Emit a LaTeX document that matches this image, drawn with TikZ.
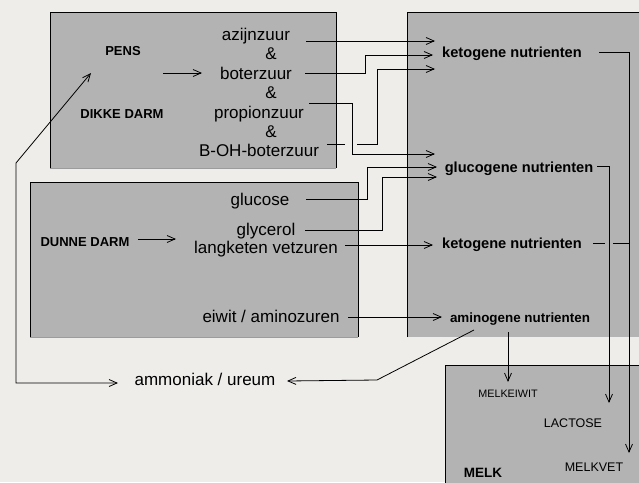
\documentclass[tikz,border=0pt]{standalone}
\usepackage{fontspec}
\setmainfont{Liberation Sans}
\usetikzlibrary{arrows.meta}
\definecolor{paper}{HTML}{EEEDEA}
\definecolor{boxgray}{HTML}{B3B3B3}
\definecolor{rimgray}{HTML}{9C9C9C}

\tikzset{
  boxfill/.style={fill=boxgray},
  rim/.style={draw=black, line width=0.8pt},
  lowrim/.style={draw=rimgray, line width=0.8pt},
  acid/.style={anchor=base, inner sep=0pt, font=\fontsize{17}{20}\selectfont},
  organ/.style={anchor=base, inner sep=0pt, font=\bfseries\fontsize{13}{15}\selectfont},
  nutrient/.style={anchor=base, inner sep=0pt, font=\bfseries\fontsize{14.6}{17}\selectfont},
  milk/.style={anchor=base, inner sep=0pt, font=\fontsize{12.5}{15}\selectfont},
  link/.style={line width=0.8pt},
  arr/.style={link, -{Straight Barb[length=8pt,width=7pt]}},
  arrboth/.style={link, {Straight Barb[length=8pt,width=7pt]}-{Straight Barb[length=8pt,width=7pt]}},
}

\begin{document}
\begin{tikzpicture}[x=1pt, y=-1pt]
  \useasboundingbox (0,0) rectangle (639,482);
  \clip (0,0) rectangle (639,482);
  \fill[paper] (0,0) rectangle (639,482);

  % boxes
  \fill[boxfill] (50,12) rectangle (336,168);
  \draw[lowrim] (50,168) -- (336,168);
  \draw[rim] (50,168) |- (336,12) -- (336,168);
  \fill[boxfill] (30,182) rectangle (358,337);
  \draw[lowrim] (30,337) -- (358,337);
  \draw[rim] (30,337) |- (358,182) -- (358,337);
  \fill[boxfill] (407,12) rectangle (650,337);
  \draw[rim] (407,337) |- (650,12);
  \fill[boxfill] (445,365) rectangle (650,490);
  \draw[rim] (445,490) |- (650,365);

  % pens / dikke darm
  \node[organ] (pens)  at (123,55)  {PENS};
  \node[organ] (dikke) at (122,118) {DIKKE DARM};
  \node[acid] (azijn)   at (256,40)  {azijnzuur};
  \node[acid] (amp1)    at (271,59)  {\&};
  \node[acid] (boter)   at (256,79)  {boterzuur};
  \node[acid] (amp2)    at (271,98)  {\&};
  \node[acid] (propion) at (259,118) {propionzuur};
  \node[acid] (amp3)    at (271,137) {\&};
  \node[acid] (bohb)    at (259,156) {B-OH-boterzuur};

  % dunne darm
  \node[organ] (dunne)  at (85,246)  {DUNNE DARM};
  \node[acid] (glucose) at (260,205) {glucose};
  \node[acid] (glycerol) at (266,235) {glycerol};
  \node[acid] (langk)   at (266,253) {langketen vetzuren};
  \node[acid] (eiwit)   at (271,322) {eiwit / aminozuren};

  % nutrienten
  \node[nutrient] (ketoA) at (512,57)  {ketogene nutrienten};
  \node[nutrient] (gluco) at (519,172) {glucogene nutrienten};
  \node[nutrient] (ketoB) at (512,248) {ketogene nutrienten};
  \node[nutrient, font=\bfseries\fontsize{13.4}{16}\selectfont] (amino) at (520,322) {aminogene nutrienten};

  \node[acid] (ammon) at (205,385) {ammoniak / ureum};

  % melk
  \node[milk, font=\fontsize{10.8}{13}\selectfont] (mkeiwit) at (508,397) {MELKEIWIT};
  \node[milk] (lactose) at (573,427) {LACTOSE};
  \node[milk] (melkvet) at (594,471) {MELKVET};
  \node[organ, font=\bfseries\fontsize{13.5}{16}\selectfont] (melk) at (483,477) {MELK};

  % connector ends
  \coordinate (pnS) at (163,73);  \coordinate (pnE) at (202,73);
  \coordinate (dnS) at (138,239); \coordinate (dnE) at (176,239);
  \coordinate (azS) at (306,41);  \coordinate (azE) at (435,41);
  \coordinate (btS) at (305,73);  \coordinate (btE) at (433,55);
  \coordinate (bhS) at (327,144); \coordinate (bhT) at (357,144);
  \coordinate (bhE) at (435,69);
  \coordinate (prS) at (309,103); \coordinate (prE) at (435,154);
  \coordinate (glS) at (306,199); \coordinate (glE) at (437,167);
  \coordinate (gyS) at (305,230); \coordinate (gyE) at (437,177);
  \coordinate (lkS) at (345,245); \coordinate (lkE) at (433,245);
  \coordinate (ewS) at (348,317); \coordinate (ewE) at (442,317);
  \coordinate (kaS) at (599,52);  \coordinate (kaE) at (629,453);
  \coordinate (guS) at (597,166); \coordinate (guE) at (609,403);
  \coordinate (kbS) at (593,243); \coordinate (kbT) at (613,243);
  \coordinate (amS) at (508,332); \coordinate (amE) at (508,382);
  \coordinate (adS) at (474,330); \coordinate (adE) at (287,381);
  \coordinate (lpA) at (91,73);   \coordinate (lpE) at (118,383);

  \draw[arr] (pnS) -- (pnE);
  \draw[arr] (dnS) -- (dnE);
  \draw[arr] (azS) -- (azE);
  \draw[arr] (btS) -- ++(60,0) |- (btE);
  \draw[link] (bhS) -- ++(18,0);
  \draw[arr] (bhT) -- ++(20,0) |- (bhE);
  \draw[arr] (prS) -- ++(43,0) |- (prE);
  \draw[arr] (glS) -- ++(61,0) |- (glE);
  \draw[arr] (gyS) -- ++(77,0) |- (gyE);
  \draw[arr] (lkS) -- (lkE);
  \draw[arr] (ewS) -- (ewE);

  \draw[arr] (kaS) -| (kaE);
  \draw[arr] (guS) -| (guE);
  \draw[link] (kbS) -- ++(12,0);
  \draw[link] (kbT) -- (kbT -| kaE);
  \draw[arr] (amS) -- (amE);
  \draw[arr] (adS) -- ++(-97,50) -- (adE);
  \draw[arrboth] (lpA) -- (16,163) |- (lpE);
\end{tikzpicture}
\end{document}
